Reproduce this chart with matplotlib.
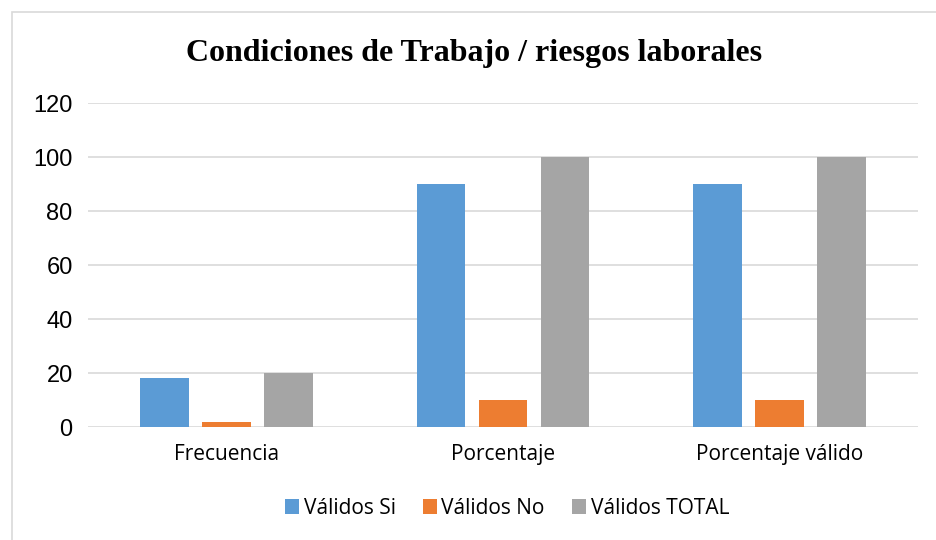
import matplotlib
matplotlib.use("Agg")
import matplotlib.pyplot as plt
from matplotlib.patches import Rectangle
import numpy as np

categories = ["Frecuencia", "Porcentaje", "Porcentaje válido"]
series_names = ["Válidos Si", "Válidos No", "Válidos TOTAL"]
validos_si = [18, 90, 90]
validos_no = [2, 10, 10]
validos_total = [20, 100, 100]
yticks = [0, 20, 40, 60, 80, 100, 120]

colors = ["#5B9BD5", "#ED7D31", "#A5A5A5"]

fig = plt.figure(figsize=(9.37, 5.4), dpi=100)
fig.patches.append(Rectangle((12 / 937, -0.05), 1.1, 1 - 12 / 540 + 0.05,
                             transform=fig.transFigure, fill=False,
                             edgecolor="#D9D9D9", linewidth=1.2))

ax = fig.add_axes([88 / 937, 1 - 427 / 540, 830 / 937, 324 / 540])

x = np.arange(len(categories))
width = 0.175
step = 0.224
for i, (vals, name) in enumerate(zip([validos_si, validos_no, validos_total], series_names)):
    ax.bar(x + (i - 1) * step, vals, width, color=colors[i], label=name, zorder=3)

ax.set_xlim(-0.5, len(categories) - 0.5)
ax.set_ylim(0, 120)
ax.set_yticks(yticks)
ax.set_yticklabels([str(v) for v in yticks], fontfamily="Liberation Sans", fontsize=17)
ax.set_xticks(x)
ax.set_xticklabels(categories, fontfamily="Open Sans", fontsize=15)
ax.tick_params(axis="both", length=0)
ax.tick_params(axis="y", pad=11)
ax.tick_params(axis="x", pad=12)
ax.grid(axis="y", color="#D9D9D9", linewidth=1.2, zorder=0)
for s in ax.spines.values():
    s.set_visible(False)

fig.text(474 / 937, 1 - 53 / 540, "Condiciones de Trabajo / riesgos laborales",
         ha="center", va="center", fontfamily="Liberation Serif",
         fontweight="bold", fontsize=23)

fig.legend(loc="center", bbox_to_anchor=(507 / 937, 1 - 508 / 540), ncol=3,
           frameon=False, prop={"family": "Open Sans", "size": 15},
           handlelength=0.7, handleheight=0.7, handletextpad=0.2,
           columnspacing=1.3)

fig.savefig("out.png", dpi=100)
